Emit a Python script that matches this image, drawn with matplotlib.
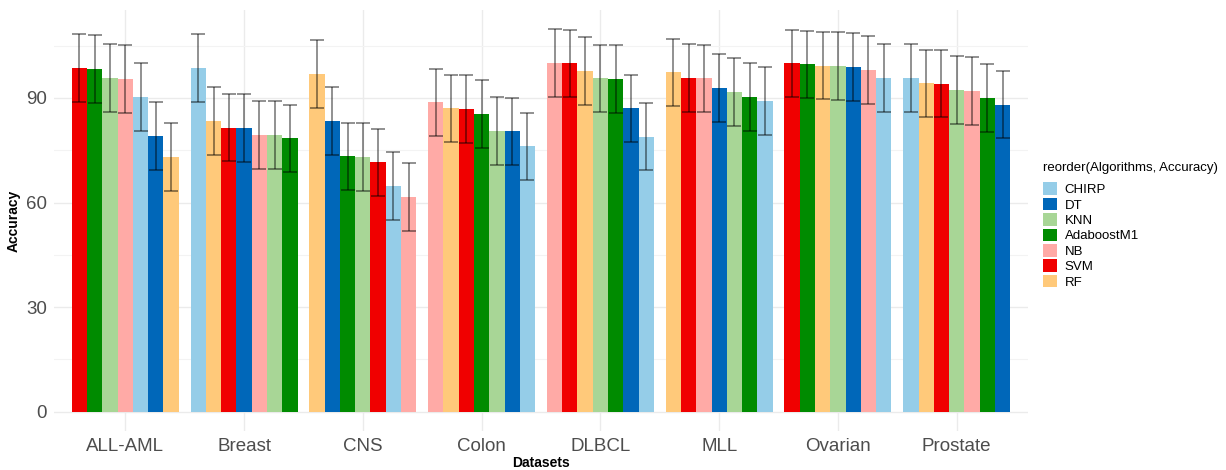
import matplotlib
matplotlib.use("Agg")
import matplotlib.pyplot as plt
from matplotlib.patches import Patch
from matplotlib.ticker import MultipleLocator
import numpy as np

plt.rcParams['font.family'] = ['Liberation Sans', 'DejaVu Sans']

datasets = ["ALL-AML", "Breast", "CNS", "Colon", "DLBCL", "MLL", "Ovarian", "Prostate"]
algorithms = ["CHIRP", "DT", "KNN", "AdaboostM1", "NB", "SVM", "RF"]

acc_chirp = [90.2, 98.5, 64.8, 76.1, 78.9, 89.2, 95.8, 95.8]
acc_dt    = [79.1, 81.3, 83.3, 80.4, 87.0, 92.9, 98.8, 88.1]
acc_knn   = [95.8, 79.3, 73.0, 80.45, 95.6, 91.6, 99.2, 92.2]
acc_ada   = [98.3, 78.4, 73.2, 85.3, 95.4, 90.2, 99.6, 90.0]
acc_nb    = [95.5, 79.35, 61.5, 88.7, 99.95, 95.6, 98.0, 92.0]
acc_svm   = [98.5, 81.5, 71.5, 86.8, 99.9, 95.8, 99.9, 94.1]
acc_rf    = [73.0, 83.4, 96.9, 87.0, 97.7, 97.3, 99.25, 94.15]

err_chirp = [9.7, 9.7, 9.7, 9.7, 9.7, 9.7, 9.7, 9.7]
err_dt    = [9.7, 9.7, 9.7, 9.7, 9.7, 9.7, 9.7, 9.7]
err_knn   = [9.7, 9.7, 9.7, 9.7, 9.7, 9.7, 9.7, 9.7]
err_ada   = [9.7, 9.7, 9.7, 9.7, 9.7, 9.7, 9.7, 9.7]
err_nb    = [9.7, 9.7, 9.7, 9.7, 9.7, 9.7, 9.7, 9.7]
err_svm   = [9.7, 9.7, 9.7, 9.7, 9.7, 9.7, 9.7, 9.7]
err_rf    = [9.7, 9.7, 9.7, 9.7, 9.7, 9.7, 9.7, 9.7]

yticks = [0, 30, 60, 90]

colors = {
    "CHIRP": "#95CDE8",
    "DT": "#0067B9",
    "KNN": "#A8D696",
    "AdaboostM1": "#008B00",
    "NB": "#FFAAA6",
    "SVM": "#F00000",
    "RF": "#FFC97A",
}

acc = {"CHIRP": acc_chirp, "DT": acc_dt, "KNN": acc_knn, "AdaboostM1": acc_ada,
       "NB": acc_nb, "SVM": acc_svm, "RF": acc_rf}
err = {"CHIRP": err_chirp, "DT": err_dt, "KNN": err_knn, "AdaboostM1": err_ada,
       "NB": err_nb, "SVM": err_svm, "RF": err_rf}

fig = plt.figure(figsize=(12.26, 4.70), dpi=100)
ax = fig.add_axes([54/1226, 39/470, (1028-54)/1226, (431-10)/470])

n = len(algorithms)
total_w = 0.9
bw = total_w / n

for i, ds in enumerate(datasets):
    order = sorted(algorithms, key=lambda a: -acc[a][i])
    for j, a in enumerate(order):
        x = i + (j - (n - 1) / 2) * bw
        v = acc[a][i]
        e = err[a][i]
        ax.bar(x, v, width=bw, color=colors[a], edgecolor='none', zorder=2)
        ax.errorbar(x, v, yerr=e, fmt='none', ecolor=(0, 0, 0, 0.55),
                    elinewidth=1.1, capsize=5.2, capthick=1.1, zorder=3)

ax.set_xlim(-0.6, len(datasets) - 0.4)
ax.set_ylim(-5.5, 115.2)
ax.set_xticks(range(len(datasets)))
ax.set_xticklabels(datasets)
ax.set_yticks(yticks)
ax.yaxis.set_minor_locator(MultipleLocator(15))
ax.grid(True, which='major', color='#EBEBEB', linewidth=1.0, zorder=0)
ax.grid(True, which='minor', axis='y', color='#F3F3F3', linewidth=0.8, zorder=0)
ax.set_axisbelow(True)
for s in ax.spines.values():
    s.set_visible(False)
ax.tick_params(axis='both', which='both', length=0, labelsize=13.5, labelcolor='#4D4D4D')
ax.tick_params(axis='x', pad=5)
ax.tick_params(axis='y', pad=5)

fig.text(541/1226, 1 - 463/470, "Datasets", fontsize=10, fontweight='bold',
         ha='center', va='center')
ax.set_ylabel("Accuracy", fontsize=10, fontweight='bold', labelpad=4)

handles = [Patch(facecolor=colors[a], edgecolor='none', label=a) for a in algorithms]
leg = fig.legend(handles=handles, title="reorder(Algorithms, Accuracy)",
                 loc='upper left', bbox_to_anchor=(1043/1226, 1 - 162/470),
                 frameon=False, fontsize=9.5, title_fontsize=9.5,
                 handlelength=1.05, handleheight=1.1, handletextpad=0.6,
                 labelspacing=0.12, borderpad=0, borderaxespad=0)
leg._legend_box.align = "left"
leg._legend_box.sep = 6

fig.savefig("out.png", dpi=100)
